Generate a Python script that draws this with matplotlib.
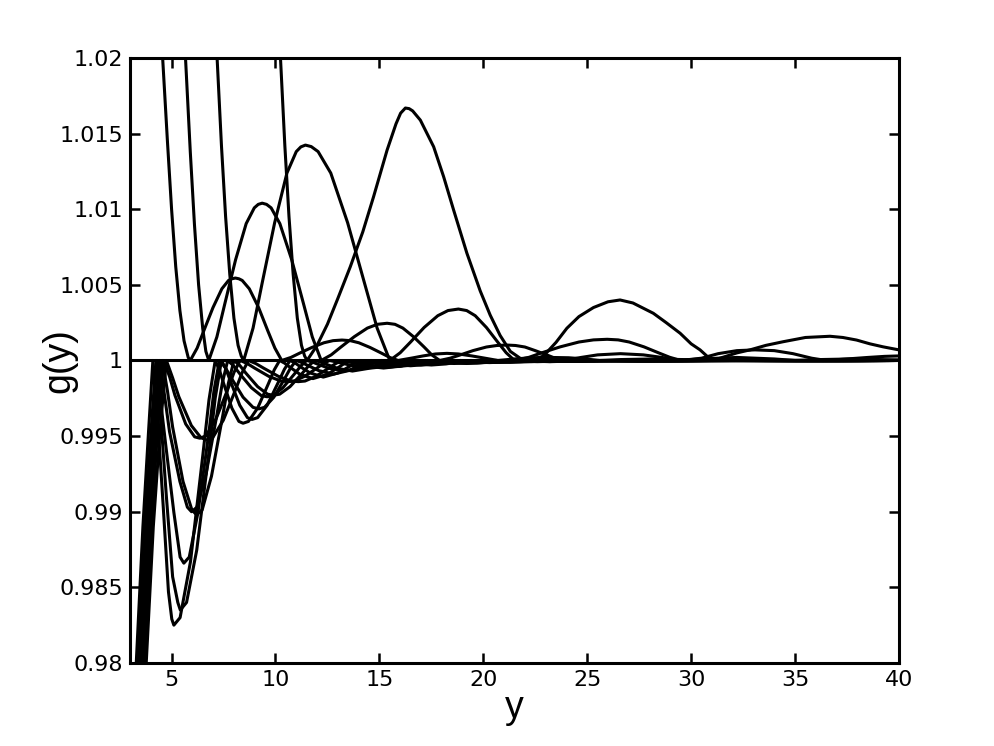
import matplotlib
matplotlib.use('Agg')
import matplotlib.pyplot as plt
import numpy as np

plt.rcParams['font.family'] = ['DejaVu Sans']

# tick labels as printed on the original (matlab style)
x_ticks = [5, 10, 15, 20, 25, 30, 35, 40]
y_ticks = [0.98, 0.985, 0.99, 0.995, 1.0, 1.005, 1.01, 1.015, 1.02]
y_tick_labels = ['0.98', '0.985', '0.99', '0.995', '1', '1.005', '1.01', '1.015', '1.02']

# ---- curves above g=1 ----
curve_a = [(4.50, 1.0215), (4.57, 1.0200), (4.80, 1.0145), (5.00, 1.0100), (5.20, 1.0062), (5.40, 1.0033),
           (5.60, 1.0013), (5.80, 1.0002), (5.90, 1.0), (6.23, 1.00082), (6.55, 1.00196), (6.99, 1.00349),
           (7.42, 1.00474), (7.74, 1.00529), (7.90, 1.00540), (8.07, 1.00545), (8.24, 1.00540), (8.40, 1.00529),
           (8.74, 1.00474), (9.19, 1.00349), (9.63, 1.00196), (9.97, 1.00082), (10.3, 1.0), (10.74, 1.0002),
           (11.17, 1.00049), (11.75, 1.00086), (12.33, 1.00117), (12.77, 1.00131), (13.2, 1.00135), (13.6, 1.00131),
           (14.01, 1.00117), (14.55, 1.00086), (15.09, 1.00049), (15.5, 1.0002), (15.9, 1.0), (16.6, 1.00017),
           (17.1, 1.0003), (17.7, 1.00043), (18.25, 1.00047), (18.8, 1.00043), (19.45, 1.0003), (20.0, 1.00017),
           (20.7, 1.0), (21.5, 1.0001), (22.3, 1.00018), (23.2, 1.0002), (24.1, 1.00018), (24.9, 1.0001),
           (25.6, 1.0), (26.6, 1.00006), (28.2, 1.0001), (29.6, 1.00006), (30.6, 1.0), (33.0, 1.00005),
           (35.5, 1.0), (38.0, 1.00003), (40.0, 1.00001)]

curve_b = [(5.62, 1.0212), (5.67, 1.0200), (5.90, 1.0138), (6.10, 1.0090), (6.30, 1.0050), (6.50, 1.0021),
           (6.65, 1.0006), (6.79, 1.0), (7.18, 1.00156), (7.56, 1.00374), (8.08, 1.00666), (8.59, 1.00905),
           (8.98, 1.01009), (9.17, 1.01032), (9.36, 1.0104), (9.57, 1.01032), (9.79, 1.01009), (10.21, 1.00905),
           (10.78, 1.00666), (11.35, 1.00374), (11.77, 1.00156), (12.2, 1.0), (12.68, 1.00037), (13.15, 1.00089),
           (13.79, 1.00157), (14.42, 1.00214), (14.9, 1.00239), (15.37, 1.00246), (15.75, 1.00239), (16.13, 1.00214),
           (16.64, 1.00157), (17.15, 1.00089), (17.52, 1.00037), (17.9, 1.0), (18.4, 1.00015), (18.9, 1.00037),
           (19.5, 1.00065), (20.15, 1.00089), (20.65, 1.00099), (21.13, 1.00102), (21.55, 1.00099), (22.0, 1.00089),
           (22.5, 1.00065), (23.05, 1.00037), (23.45, 1.00015), (23.9, 1.0), (24.7, 1.0002), (25.5, 1.00037),
           (26.6, 1.00045), (27.7, 1.00037), (28.6, 1.0002), (29.4, 1.0), (30.4, 1.0001), (32.2, 1.0002),
           (34.0, 1.0001), (35.0, 1.0), (36.2, 1.00006), (37.7, 1.0001), (39.0, 1.00006), (40.0, 1.00002)]

curve_c = [(7.14, 1.0212), (7.19, 1.0200), (7.40, 1.0142), (7.60, 1.0095), (7.80, 1.0057), (8.00, 1.0028),
           (8.20, 1.0010), (8.35, 1.0003), (8.47, 1.0), (8.92, 1.00214), (9.36, 1.00513), (9.96, 1.00911),
           (10.55, 1.01239), (11.0, 1.01381), (11.22, 1.01412), (11.44, 1.01424), (11.72, 1.01414), (12.05, 1.01381),
           (12.66, 1.01239), (13.47, 1.00911), (14.28, 1.00513), (14.89, 1.00214), (15.5, 1.0), (16.0, 1.00051),
           (16.5, 1.00122), (17.15, 1.00218), (17.81, 1.00296), (18.3, 1.0033), (18.8, 1.0034), (19.2, 1.0033),
           (19.61, 1.00296), (20.15, 1.00218), (20.69, 1.00122), (21.1, 1.00051), (21.5, 1.0), (22.2, 1.00021),
           (22.8, 1.0005), (23.7, 1.0009), (24.6, 1.00122), (25.3, 1.00136), (25.96, 1.0014), (26.49, 1.00136),
           (27.02, 1.00122), (27.73, 1.0009), (28.44, 1.0005), (28.97, 1.00021), (29.5, 1.0), (30.5, 1.00015),
           (31.3, 1.00045), (32.2, 1.00065), (33.07, 1.0007), (34.0, 1.00065), (34.9, 1.00045), (35.8, 1.00015),
           (36.5, 1.0), (37.5, 1.0001), (38.5, 1.0002), (39.3, 1.00027), (40.0, 1.0003)]

curve_d = [(10.19, 1.0212), (10.24, 1.0200), (10.45, 1.0142), (10.65, 1.0095), (10.85, 1.0057), (11.05, 1.0028),
           (11.25, 1.0010), (11.40, 1.0003), (11.52, 1.0), (12.0, 1.0010), (12.5, 1.0024), (13.0, 1.0041),
           (13.6, 1.0062), (14.2, 1.0085), (14.72, 1.01083), (15.37, 1.01391), (15.8, 1.01565), (16.02, 1.01635),
           (16.25, 1.01669), (16.43, 1.01665), (16.6, 1.0165), (16.97, 1.01589), (17.61, 1.01413), (18.09, 1.01215),
           (18.57, 1.00995), (19.21, 1.00709), (19.85, 1.0046), (20.33, 1.0030), (20.81, 1.00165), (21.3, 1.0006),
           (21.8, 1.00012), (22.3, 1.0), (22.9, 1.0003), (23.5, 1.0012), (24.02, 1.00213), (24.6, 1.0029),
           (25.3, 1.0035), (26.0, 1.00388), (26.58, 1.0040), (27.2, 1.0038), (28.18, 1.00312), (28.8, 1.0025),
           (29.47, 1.0018), (30.0, 1.0011), (30.43, 1.0007), (30.75, 1.0003), (31.05, 1.0), (31.5, 1.0002),
           (32.2, 1.0005), (32.83, 1.0007), (33.6, 1.0010), (34.43, 1.00124), (35.5, 1.00152), (36.68, 1.0016),
           (37.3, 1.00152), (37.96, 1.00135), (38.6, 1.0011), (39.24, 1.0009), (40.0, 1.0007)]

# ---- curves below g=1 ----
curve_l1 = [(3.25, 0.9785), (3.30, 0.98), (3.62, 0.989), (3.90, 0.9955), (4.10, 1.0), (4.35, 0.9957),
            (4.60, 0.9903), (4.85, 0.9847), (5.01, 0.9829), (5.11, 0.9825), (5.41, 0.9830), (5.91, 0.9867),
            (6.50, 0.9937), (6.80, 0.9974), (7.10, 1.0), (7.30, 0.99938), (7.50, 0.9985), (7.90, 0.99685),
            (8.24, 0.99597), (8.44, 0.99585), (8.70, 0.99597), (9.14, 0.99685), (9.67, 0.9985), (9.94, 0.99938),
            (10.2, 1.0), (10.44, 0.99982), (10.68, 0.99957), (11.16, 0.9991), (11.8, 0.9988), (12.52, 0.9991),
            (13.06, 0.99957), (13.33, 0.99982), (13.6, 1.0), (14.1, 0.99984), (14.7, 0.99966), (15.4, 0.99955),
            (16.1, 0.99966), (16.8, 0.99984), (17.3, 1.0), (18.2, 0.99988), (19.2, 0.99982), (20.2, 0.99988),
            (21.2, 1.0), (23.2, 0.99993), (25.2, 1.0), (27.5, 0.99996), (30.0, 1.0), (35.0, 0.99998), (40.0, 1.0)]

curve_l2 = [(3.33, 0.9785), (3.38, 0.98), (3.72, 0.989), (4.02, 0.9955), (4.25, 1.0), (4.50, 0.9958),
            (4.75, 0.9910), (5.05, 0.9857), (5.30, 0.98400), (5.42, 0.9835), (5.72, 0.98400), (6.21, 0.98746),
            (6.81, 0.99406), (7.10, 0.99752), (7.40, 1.0), (7.62, 0.99942), (7.84, 0.9986), (8.28, 0.99704),
            (8.65, 0.99622), (8.87, 0.9961), (9.14, 0.99622), (9.60, 0.99704), (10.15, 0.9986), (10.43, 0.99942),
            (10.7, 1.0), (10.94, 0.99984), (11.18, 0.9996), (11.66, 0.99918), (12.3, 0.9989), (13.02, 0.99918),
            (13.56, 0.9996), (13.83, 0.99984), (14.1, 1.0), (14.6, 0.99986), (15.2, 0.9997), (15.9, 0.9996),
            (16.6, 0.9997), (17.3, 0.99986), (17.8, 1.0), (18.7, 0.9999), (19.7, 0.99984), (20.7, 0.9999),
            (21.6, 1.0), (23.6, 0.99994), (25.6, 1.0), (28.0, 0.99996), (31.0, 1.0), (36.0, 0.99998), (40.0, 1.0)]

curve_l3 = [(3.41, 0.9785), (3.46, 0.98), (3.78, 0.989), (4.08, 0.9955), (4.30, 1.0), (4.50, 0.9970),
            (4.72, 0.99440), (5.11, 0.98995), (5.41, 0.987), (5.59, 0.9866), (5.85, 0.987), (6.27, 0.98995),
            (6.79, 0.99518), (7.04, 0.998), (7.30, 1.0), (7.59, 0.99952), (7.87, 0.99885), (8.44, 0.99757),
            (8.92, 0.9969), (9.20, 0.9968), (9.47, 0.9969), (9.92, 0.99757), (10.46, 0.99885), (10.73, 0.99952),
            (11.0, 1.0), (11.27, 0.99986), (11.54, 0.99968), (12.08, 0.99933), (12.8, 0.9991), (13.52, 0.99933),
            (14.06, 0.99968), (14.33, 0.99986), (14.6, 1.0), (15.1, 0.99988), (15.8, 0.99973), (16.5, 0.99965),
            (17.2, 0.99973), (17.9, 0.99988), (18.4, 1.0), (19.3, 0.99991), (20.3, 0.99986), (21.3, 0.99991),
            (22.2, 1.0), (24.3, 0.99994), (26.4, 1.0), (29.0, 0.99996), (32.0, 1.0), (37.0, 0.99998), (40.0, 1.0)]

curve_l4 = [(3.49, 0.9785), (3.54, 0.98), (3.88, 0.989), (4.18, 0.9955), (4.42, 1.0), (4.66, 0.9977),
            (4.90, 0.9953), (5.40, 0.9920), (5.76, 0.9903), (5.96, 0.9900), (6.22, 0.9903), (6.66, 0.9925),
            (7.18, 0.9964), (7.44, 0.9985), (7.70, 1.0), (7.99, 0.99964), (8.27, 0.99914), (8.84, 0.9982),
            (9.32, 0.99767), (9.60, 0.9976), (9.88, 0.99767), (10.36, 0.9982), (10.93, 0.99914), (11.22, 0.99964),
            (11.5, 1.0), (11.77, 0.9999), (12.04, 0.99975), (12.58, 0.99948), (13.3, 0.9993), (14.02, 0.99948),
            (14.56, 0.99975), (14.83, 0.9999), (15.1, 1.0), (15.7, 0.9999), (16.3, 0.99977), (17.0, 0.9997),
            (17.7, 0.99977), (18.3, 0.9999), (18.9, 1.0), (19.8, 0.99992), (20.8, 0.99988), (21.8, 0.99992),
            (22.7, 1.0), (24.8, 0.99995), (27.0, 1.0), (29.5, 0.99997), (32.5, 1.0), (37.5, 0.99998), (40.0, 1.0)]

curve_l5 = [(3.57, 0.9785), (3.62, 0.98), (3.96, 0.989), (4.28, 0.9955), (4.55, 1.0), (4.80, 0.99800),
            (5.05, 0.99560), (5.55, 0.99200), (5.98, 0.99011), (6.20, 0.9898), (6.47, 0.99011), (6.92, 0.99235),
            (7.46, 0.99633), (7.73, 0.99847), (8.00, 1.0), (8.29, 0.99966), (8.57, 0.99917), (9.14, 0.99827),
            (9.62, 0.99777), (9.90, 0.9977), (10.2, 0.99777), (10.7, 0.99827), (11.3, 0.99917), (11.6, 0.99966),
            (11.9, 1.0), (12.17, 0.9999), (12.44, 0.99975), (12.98, 0.99948), (13.7, 0.9993), (14.49, 0.99948),
            (15.05, 0.99975), (15.32, 0.9999), (15.6, 1.0), (16.2, 0.9999), (16.8, 0.99977), (17.5, 0.9997),
            (18.2, 0.99977), (18.8, 0.9999), (19.4, 1.0), (20.3, 0.99992), (21.3, 0.99988), (22.3, 0.99992),
            (23.2, 1.0), (25.3, 0.99995), (27.5, 1.0), (30.0, 0.99997), (33.0, 1.0), (38.0, 0.99998), (40.0, 1.0)]

curve_l6 = [(3.65, 0.9785), (3.70, 0.98), (4.02, 0.989), (4.33, 0.9955), (4.62, 1.0), (4.91, 0.99890),
            (5.16, 0.99770), (5.68, 0.99580), (6.11, 0.99495), (6.36, 0.99486), (6.65, 0.99501), (7.14, 0.99614),
            (7.72, 0.99815), (8.01, 0.99923), (8.30, 1.0), (8.65, 0.99979), (8.99, 0.9995), (9.68, 0.99895),
            (10.26, 0.99864), (10.6, 0.9986), (10.9, 0.99864), (11.4, 0.99895), (12.0, 0.9995), (12.3, 0.99979),
            (12.6, 1.0), (13.2, 0.99982), (13.8, 0.99962), (14.6, 0.9995), (15.4, 0.99962), (16.0, 0.99982),
            (16.6, 1.0), (17.6, 0.99988), (18.6, 0.9998), (19.6, 0.99988), (20.6, 1.0), (22.6, 0.99992),
            (24.6, 1.0), (27.0, 0.99996), (30.0, 1.0), (35.0, 0.99998), (40.0, 1.0)]

curve_l7 = [(3.73, 0.9785), (3.78, 0.98), (4.12, 0.989), (4.45, 0.9955), (4.75, 1.0), (5.05, 0.99885),
            (5.35, 0.99760), (5.95, 0.99570), (6.41, 0.9949), (6.68, 0.99474), (6.98, 0.9949), (7.49, 0.99605),
            (8.09, 0.99811), (8.40, 0.99921), (8.70, 1.0), (9.06, 0.99979), (9.42, 0.9995), (10.14, 0.99895),
            (10.74, 0.99864), (11.1, 0.9986), (11.42, 0.99864), (11.94, 0.99895), (12.57, 0.9995), (12.89, 0.99979),
            (13.2, 1.0), (13.8, 0.99982), (14.4, 0.99962), (15.2, 0.9995), (16.0, 0.99962), (16.6, 0.99982),
            (17.2, 1.0), (18.2, 0.99988), (19.2, 0.9998), (20.2, 0.99988), (21.2, 1.0), (23.2, 0.99992),
            (25.2, 1.0), (27.6, 0.99996), (30.6, 1.0), (35.6, 0.99998), (40.0, 1.0)]

# reference line g = 1
flat_line = [(3.0, 1.0), (40.0, 1.0)]

all_curves = [curve_a, curve_b, curve_c, curve_d,
              curve_l1, curve_l2, curve_l3, curve_l4, curve_l5, curve_l6, curve_l7, flat_line]

fig = plt.figure(figsize=(9.94, 7.46), dpi=100)
ax = fig.add_axes([0.1308, 0.1113, 0.7736, 0.811])

for curve in all_curves:
    pts = np.array(curve)
    ax.plot(pts[:, 0], pts[:, 1], color='black', linewidth=2.2, solid_joinstyle='round')

ax.set_xlim(3, 40)
ax.set_ylim(0.98, 1.02)
ax.set_xticks(x_ticks)
ax.set_xticklabels([str(t) for t in x_ticks])
ax.set_yticks(y_ticks)
ax.set_yticklabels(y_tick_labels)
ax.tick_params(direction='in', top=True, right=True, length=7, width=1.8, labelsize=16, pad=5)
for sp in ax.spines.values():
    sp.set_linewidth(2.2)

ax.set_xlabel('y', fontsize=27, family='Liberation Sans')
ax.xaxis.set_label_coords(0.5, -0.045)
ax.set_ylabel('g(y)', fontsize=27, family='Liberation Sans')
ax.yaxis.set_label_coords(-0.068, 0.5)

fig.savefig('out.png', dpi=100)
